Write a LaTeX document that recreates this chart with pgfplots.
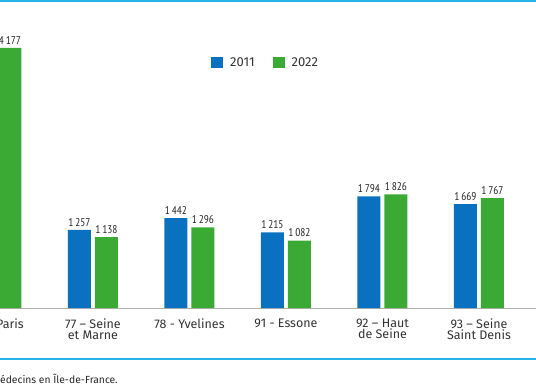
\documentclass[border=0pt]{standalone}
\usepackage{pgfplots}
\pgfplotsset{compat=1.18}
\usepackage{fontspec}
\setmainfont{Fira Sans}
\newfontfamily\narrowfont{PT Sans Narrow}
\definecolor{cblue}{HTML}{0A71C0}
\definecolor{cgreen}{HTML}{3AAA35}
\definecolor{ccyan}{HTML}{22B4E6}
\begin{document}
\begin{tikzpicture}
\useasboundingbox (0,0) rectangle (536pt,386pt);
\clip (0,0) rectangle (536pt,386pt);
\begin{axis}[
  at={(-96.5pt,78pt)}, anchor=south west,
  scale only axis, width=632.5pt, height=308pt,
  xmin=-0.9637, xmax=5.5907, ymin=0, ymax=4948,
  enlargelimits=false,
  ybar=4pt, bar width=23pt,
  axis x line*=bottom, axis y line=none,
  x axis line style={draw=black!30, line width=0.8pt, -},
  xtick={0.14,1,2,3,4,5},
  xticklabels={Paris,{77 -- Seine\\et Marne},78 - Yvelines,91 - Essone,{92 -- Haut\\de Seine},{93 -- Seine\\Saint Denis}},
  xticklabel style={align=center, font=\fontsize{12.5}{11.5}\selectfont, text=black!80, yshift=-7pt},
  major tick length=0pt,
  ytick=\empty,
  nodes near coords,
  /pgf/number format/assume math mode=true,
  /pgf/number format/1000 sep={\,},
  nodes near coords style={font=\narrowfont\fontsize{11.2}{11}\selectfont, text=black!85},
  legend style={at={(0.4862,0.797)}, anchor=west, draw=none, fill=none, inner sep=0pt,
    font=\fontsize{13}{13}\selectfont, text=black!80,
    /tikz/every odd column/.append style={column sep=5pt},
    /tikz/every even column/.append style={column sep=16pt}},
  legend columns=2,
  legend image code/.code={\fill[#1,draw=none] (0pt,-5.5pt) rectangle (12pt,5.5pt);},
]
\addplot[fill=cblue, draw=none] coordinates {(1,1257) (2,1442) (3,1215) (4,1794) (5,1669)};
\addplot[fill=cgreen, draw=none] coordinates {(0,4177) (1,1138) (2,1296) (3,1082) (4,1826) (5,1767)};
\legend{2011,2022}
\end{axis}
\draw[ccyan, line width=2pt] (0,385pt) -- (536pt,385pt);
\draw[ccyan, line width=1.5pt] (0,27pt) -- (536pt,27pt);
\node[anchor=base west, inner sep=0pt, font=\fontsize{10.3}{10.3}\selectfont, text=black!85] at (0pt,3pt) {édecins en Île-de-France.};
\end{tikzpicture}
\end{document}
